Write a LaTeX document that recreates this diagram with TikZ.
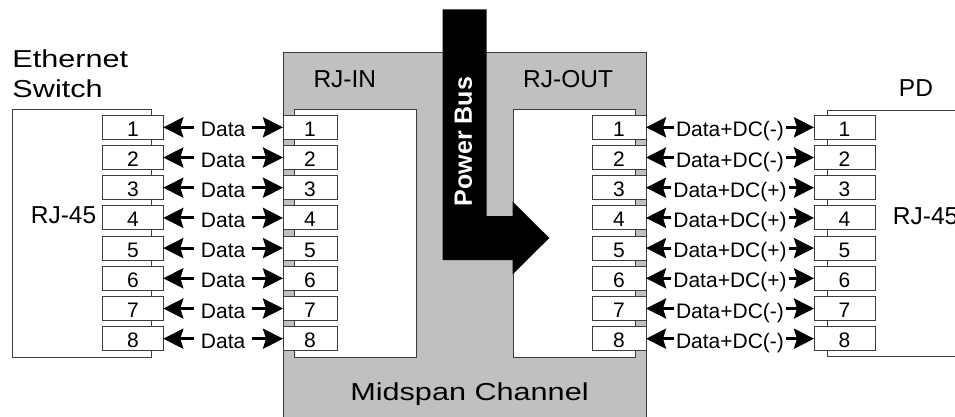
\documentclass[tikz,border=0pt]{standalone}
\usepackage{fontspec}
\setmainfont{Liberation Sans}
\newfontfamily\widefont[FakeStretch=1.25]{Liberation Sans}
\usetikzlibrary{arrows.meta}
\definecolor{midgray}{RGB}{192,192,192}
\definecolor{edgec}{RGB}{60,60,60}
\begin{document}
\begin{tikzpicture}[x=1pt,y=-1pt,
  housing/.style={draw=edgec,line width=0.9pt},
  port/.style={draw=edgec,fill=white,line width=0.9pt,minimum height=24pt,
    inner sep=0pt,outer sep=0pt,text height=18pt,text depth=0pt,
    font=\fontsize{21}{21}\selectfont},
  link/.style={line width=3pt,
    {Stealth[length=20pt,width=20pt,inset=3pt]}-{Stealth[length=20pt,width=20pt,inset=3pt]}},
  datalbl/.style={fill=white,font=\fontsize{21}{21}\selectfont,text height=15pt,
    text depth=0pt,inner ysep=0pt,inner xsep=7pt,yshift=-2pt},
  lbl/.style={font=\fontsize{24.5}{24.5}\selectfont,inner sep=0pt,anchor=base west},
  widelbl/.style={font=\widefont\fontsize{24.5}{24.5}\selectfont,inner sep=0pt,anchor=base west}]
\useasboundingbox (0,0) rectangle (955,417);
\clip (0,0) rectangle (955,417);
% housings
\draw[housing,fill=midgray] (283,52) rectangle (646,430);
\draw[housing,fill=white] (12,109) rectangle (151,357);
\draw[housing,fill=white] (294,109) rectangle (416,357);
\draw[housing,fill=white] (513,109) rectangle (635,357);
\draw[housing,fill=white] (827,110) rectangle (970,356);
% power bus
\fill[black] (442.7,9.3) -- (486.7,9.3) -- (486.7,216) -- (512.7,216) -- (512.7,201.7)
  -- (549.3,238) -- (512.7,274.3) -- (512.7,260) -- (442.7,260) -- cycle;
\node[rotate=90,text=white,inner sep=0pt,font=\bfseries\fontsize{25}{25}\selectfont] (pb) at (463.5,141.5) {Power Bus};
% ports and links
\foreach \i/\s in {1/-,2/-,3/+,4/+,5/+,6/+,7/-,8/-}{
  \pgfmathsetmacro\yy{127.3+30.2*(\i-1)}
  \node[port,minimum width=60.6pt] (lp\i) at (133,\yy) {\i};
  \node[port,minimum width=54pt] (mp\i) at (310,\yy) {\i};
  \node[port,minimum width=54pt] (op\i) at (619,\yy) {\i};
  \node[port,minimum width=61pt] (pp\i) at (844.5,\yy) {\i};
  \draw[link] (lp\i) -- (mp\i) node[datalbl,midway] {Data};
  \draw[link] (op\i) -- (pp\i) node[datalbl,inner xsep=2pt,midway] {Data+DC(\s)};
}
% labels
\node[widelbl] (eth) at (12.3,68) {Ethernet};
\node[widelbl] (sw) at (12.3,98) {Switch};
\node[lbl] (rjin) at (313.3,87.3) {RJ-IN};
\node[lbl] (rjout) at (523,87.3) {RJ-OUT};
\node[lbl,anchor=base] (pd) at (916,97) {PD};
\node[lbl] (rjl) at (30.7,223.3) {RJ-45};
\node[lbl] (rjr) at (892.7,224) {RJ-45};
\node[widelbl,anchor=base] (mid) at (469.5,400) {Midspan Channel};
\end{tikzpicture}
\end{document}
